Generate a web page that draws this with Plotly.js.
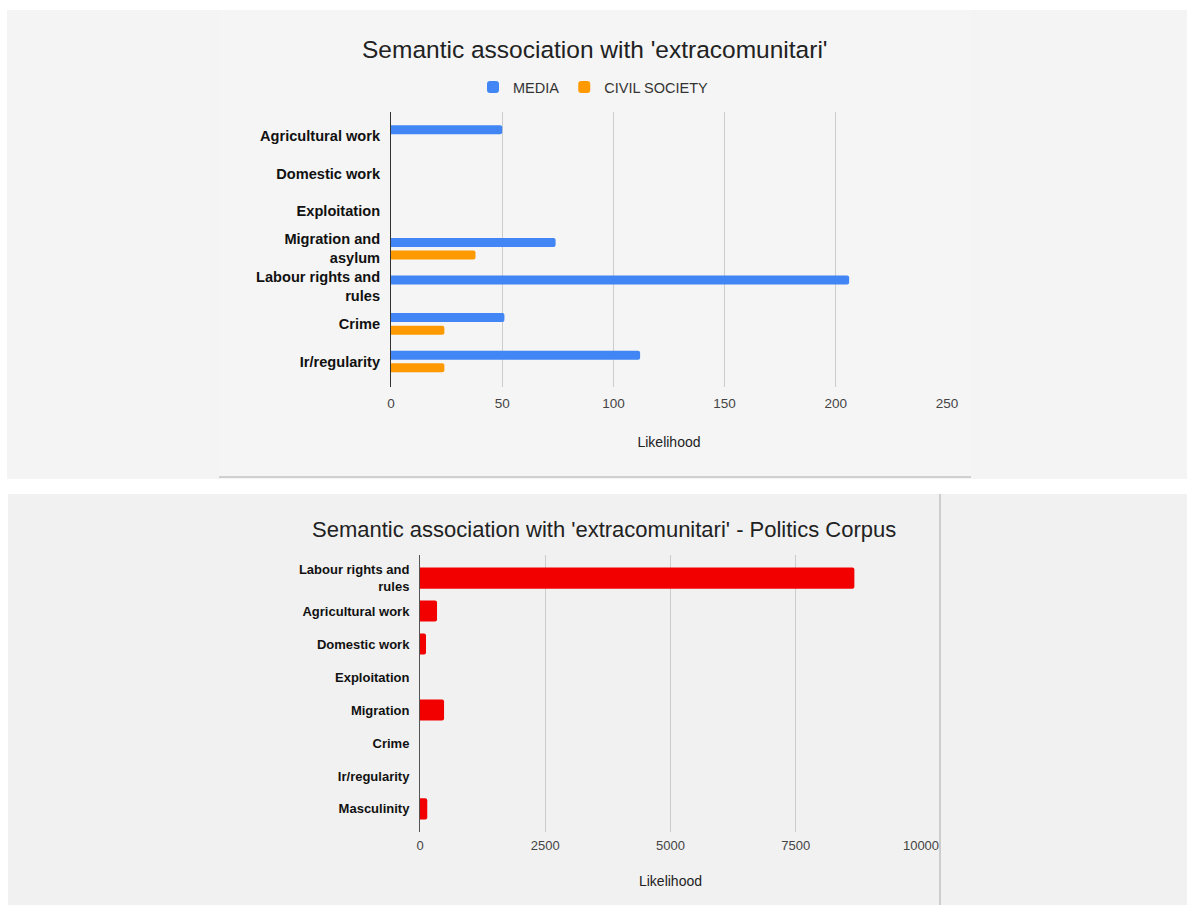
<!DOCTYPE html>
<html>
<head>
<meta charset="utf-8">
<script src="https://cdn.plot.ly/plotly-3.0.1.min.js"></script>
<style>html,body{margin:0;padding:0;background:#fff;}#chart{width:1187px;height:905px;}</style>
</head>
<body>
<div id="chart"></div>
<script>
// ---- Data: top chart ----
const topCategories = ["Agricultural work", "Domestic work", "Exploitation", "Migration and asylum", "Labour rights and rules", "Crime", "Ir/regularity"];
const topTickLabels = ["Agricultural work", "Domestic work", "Exploitation", "Migration and<br>asylum", "Labour rights and<br>rules", "Crime", "Ir/regularity"];
const mediaValues = [50, 0, 0, 74, 206, 51, 112];
const civilValues = [0, 0, 0, 38, 0, 24, 24];
const topXTicks = [0, 50, 100, 150, 200, 250];

// ---- Data: bottom chart ----
const botCategories = ["Labour rights and rules", "Agricultural work", "Domestic work", "Exploitation", "Migration", "Crime", "Ir/regularity", "Masculinity"];
const botTickLabels = ["Labour rights and<br>rules", "Agricultural work", "Domestic work", "Exploitation", "Migration", "Crime", "Ir/regularity", "Masculinity"];
const politicsValues = [8670, 340, 120, 0, 480, 0, 0, 145];
const botXTicks = [0, 2500, 5000, 7500, 10000];

const W = 1187, H = 905;
const px = v => v / W;
const py = v => 1 - v / H;

const traces = [
  {type: 'bar', orientation: 'h', name: 'MEDIA', y: topCategories, x: mediaValues,
   marker: {color: '#4285f4', cornerradius: 2}, xaxis: 'x', yaxis: 'y', hoverinfo: 'x+y'},
  {type: 'bar', orientation: 'h', name: 'CIVIL SOCIETY', y: topCategories, x: civilValues,
   marker: {color: '#ff9900', cornerradius: 2}, xaxis: 'x', yaxis: 'y', hoverinfo: 'x+y'},
  {type: 'bar', orientation: 'h', name: 'Politics', y: botCategories, x: politicsValues,
   marker: {color: '#f20000', cornerradius: 2}, xaxis: 'x2', yaxis: 'y2', showlegend: false,
   width: 0.64, hoverinfo: 'x+y'}
];

const font = "Liberation Sans, Arial, sans-serif";

const layout = {
  width: W, height: H,
  margin: {l: 0, r: 0, t: 0, b: 0, pad: 0},
  paper_bgcolor: '#ffffff',
  plot_bgcolor: 'rgba(0,0,0,0)',
  font: {family: font, color: '#222'},
  barmode: 'group',
  bargap: 0.33,
  bargroupgap: 0.28,
  showlegend: true,
  legend: {orientation: 'h', x: px(593), xanchor: 'center', y: py(87), yanchor: 'middle',
           font: {family: font, size: 14.5, color: '#333'}, bgcolor: 'rgba(0,0,0,0)', itemwidth: 30},
  xaxis: {domain: [px(391), px(947)], range: [0, 250], tickvals: topXTicks, ticktext: topXTicks.map(String),
          showgrid: true, gridcolor: '#cccccc', gridwidth: 1, zeroline: false, showline: false,
          ticks: '', ticklabelstandoff: 6, tickfont: {family: font, size: 13.5, color: '#444'}, anchor: 'y', fixedrange: true,
          title: {text: 'Likelihood', font: {family: font, size: 14, color: '#222'}, standoff: 27}},
  yaxis: {domain: [py(387), py(112)], type: 'category', categoryorder: 'array', categoryarray: topCategories,
          range: [6.68, -0.64], tickvals: topCategories, ticktext: topTickLabels,
          showline: true, linecolor: '#333', linewidth: 1, showgrid: false, zeroline: false, ticks: '',
          ticklabelstandoff: 7,
          tickfont: {family: font, size: 14.6, color: '#111', weight: 'bold'}, anchor: 'x', fixedrange: true},
  xaxis2: {domain: [px(420), px(921)], range: [0, 10000], tickvals: botXTicks, ticktext: botXTicks.map(String),
           showgrid: true, gridcolor: '#cccccc', gridwidth: 1, zeroline: false, showline: false,
           ticks: '', ticklabelstandoff: 4, tickfont: {family: font, size: 13, color: '#444'}, anchor: 'y2', fixedrange: true,
           title: {text: 'Likelihood', font: {family: font, size: 14, color: '#222'}, standoff: 24}},
  yaxis2: {domain: [py(832), py(555)], type: 'category', categoryorder: 'array', categoryarray: botCategories,
           range: [7.7, -0.7], tickvals: botCategories, ticktext: botTickLabels,
           showline: true, linecolor: '#555', linewidth: 1, showgrid: false, zeroline: false, ticks: '',
           ticklabelstandoff: 7,
           tickfont: {family: font, size: 13, color: '#111', weight: 'bold'}, anchor: 'x2', fixedrange: true},
  shapes: [
    // top panel background
    {type: 'rect', xref: 'paper', yref: 'paper', x0: px(7), x1: 1, y0: py(479), y1: py(10),
     fillcolor: '#f4f4f4', line: {width: 0}, layer: 'below'},
    {type: 'rect', xref: 'paper', yref: 'paper', x0: px(219), x1: px(971), y0: py(477), y1: py(10),
     fillcolor: '#f5f5f5', line: {width: 0}, layer: 'below'},
    {type: 'line', xref: 'paper', yref: 'paper', x0: px(219), x1: px(971), y0: py(477), y1: py(477),
     line: {color: '#aaaaaa', width: 1}, layer: 'below'},
    // bottom panel background
    {type: 'rect', xref: 'paper', yref: 'paper', x0: px(8), x1: 1, y0: 0, y1: py(494),
     fillcolor: '#f1f1f1', line: {width: 0}, layer: 'below'},
    {type: 'line', xref: 'paper', yref: 'paper', x0: px(940), x1: px(940), y0: 0, y1: py(494),
     line: {color: '#aaaaaa', width: 1}, layer: 'below'}
  ],
  annotations: [
    {text: "Semantic association with 'extracomunitari'", xref: 'paper', yref: 'paper',
     x: px(595), y: py(50), xanchor: 'center', yanchor: 'middle', showarrow: false,
     font: {family: font, size: 24.5, color: '#222'}},
    {text: "Semantic association with 'extracomunitari' - Politics Corpus", xref: 'paper', yref: 'paper',
     x: px(604), y: py(529), xanchor: 'center', yanchor: 'middle', showarrow: false,
     font: {family: font, size: 22, color: '#222'}}
  ]
};

Plotly.newPlot('chart', traces, layout, {displayModeBar: false, staticPlot: true});
</script>
</body>
</html>
